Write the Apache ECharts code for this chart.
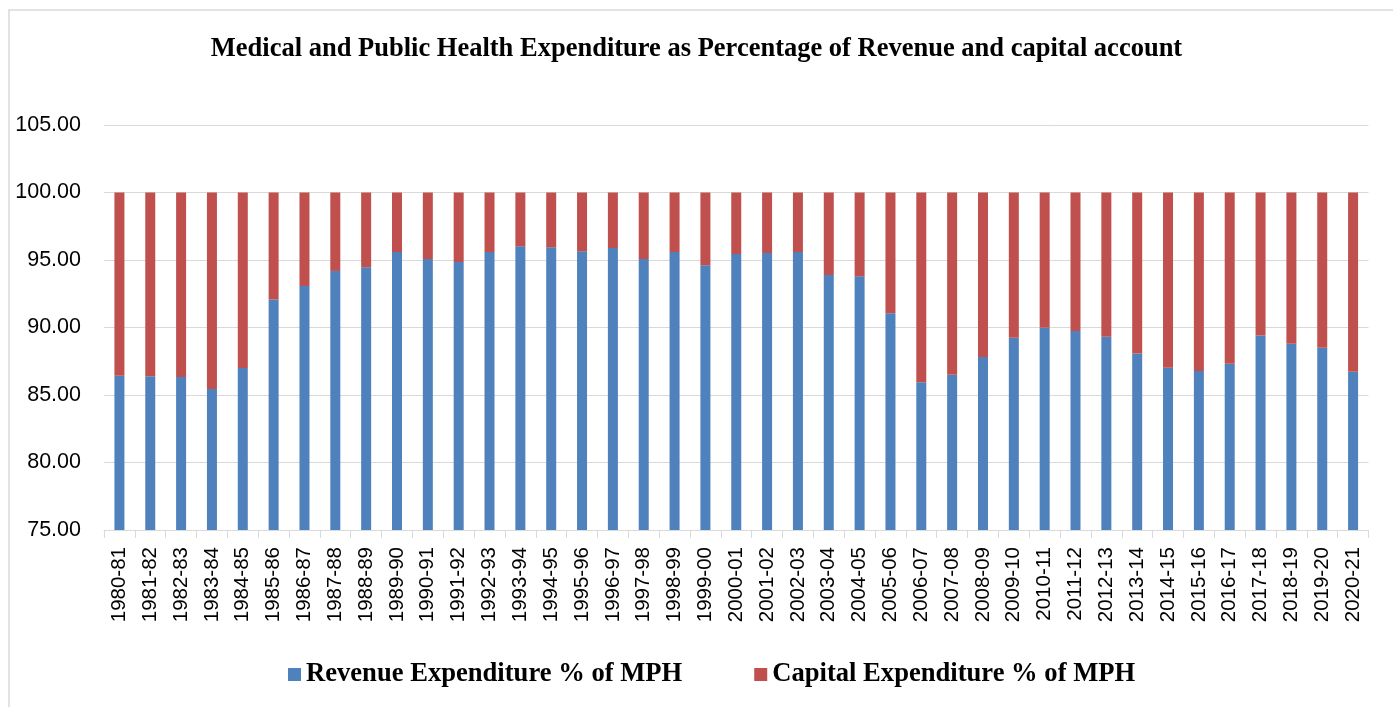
<!DOCTYPE html>
<html>
<head>
<meta charset="utf-8">
<script src="https://cdn.jsdelivr.net/npm/echarts@6/dist/echarts.min.js"></script>
<style>html,body{margin:0;padding:0;background:#fff;}#c{width:1393px;height:707px;}</style>
</head>
<body>
<div id="c"></div>
<script>
const categories = ["1980-81","1981-82","1982-83","1983-84","1984-85","1985-86","1986-87","1987-88","1988-89","1989-90","1990-91","1991-92","1992-93","1993-94","1994-95","1995-96","1996-97","1997-98","1998-99","1999-00","2000-01","2001-02","2002-03","2003-04","2004-05","2005-06","2006-07","2007-08","2008-09","2009-10","2010-11","2011-12","2012-13","2013-14","2014-15","2015-16","2016-17","2017-18","2018-19","2019-20","2020-21"];
const revenue = [86.43,86.38,86.33,85.44,87.00,92.07,93.08,94.19,94.46,95.59,95.07,94.85,95.59,96.01,95.94,95.64,95.89,95.07,95.59,94.61,95.44,95.52,95.59,93.89,93.79,91.06,85.94,86.50,87.81,89.24,89.98,89.75,89.31,88.08,87.02,86.77,87.32,89.41,88.79,88.50,86.72];
const capital = [13.57,13.62,13.67,14.56,13.00,7.93,6.92,5.81,5.54,4.41,4.93,5.15,4.41,3.99,4.06,4.36,4.11,4.93,4.41,5.39,4.56,4.48,4.41,6.11,6.21,8.94,14.06,13.50,12.19,10.76,10.02,10.25,10.69,11.92,12.98,13.23,12.68,10.59,11.21,11.50,13.28];
const yTicks = {min: 75, max: 105, interval: 5};

const chart = echarts.init(document.getElementById('c'));
chart.setOption({
  animation: false,
  backgroundColor: '#fff',
  graphic: [{type: 'rect', shape: {x: 9, y: 10, width: 1400, height: 720}, style: {fill: 'none', stroke: '#d9d9d9', lineWidth: 1.5}}],
  title: {
    text: 'Medical and Public Health Expenditure as Percentage of Revenue and capital account',
    left: 'center', top: 31,
    textStyle: {fontFamily: 'Liberation Serif', fontWeight: 'bold', fontSize: 26.5, color: '#000'}
  },
  legend: {
    bottom: 14, left: 283, itemGap: 72, itemWidth: 13, itemHeight: 13,
    icon: 'rect',
    textStyle: {fontFamily: 'Liberation Serif', fontWeight: 'bold', fontSize: 26.6, color: '#000'},
    data: ['Revenue Expenditure % of MPH', 'Capital Expenditure % of MPH']
  },
  grid: {left: 104, right: 24.5, top: 125, bottom: 177},
  xAxis: {
    type: 'category', data: categories,
    axisLine: {lineStyle: {color: '#d9d9d9', width: 1}},
    axisTick: {show: true, alignWithLabel: false, length: 8, lineStyle: {color: '#d9d9d9'}},
    axisLabel: {rotate: 90, interval: 0, fontFamily: 'Liberation Sans', fontSize: 20.5, color: '#000', margin: 17}
  },
  yAxis: {
    type: 'value', min: yTicks.min, max: yTicks.max, interval: yTicks.interval,
    axisLine: {show: false}, axisTick: {show: false},
    splitLine: {lineStyle: {color: '#d9d9d9', width: 1}},
    axisLabel: {formatter: v => v.toFixed(2), fontFamily: 'Liberation Sans', fontSize: 21.5, color: '#000', margin: 23}
  },
  series: [
    {name: 'Revenue Expenditure % of MPH', type: 'bar', stack: 's', data: revenue, barWidth: 10,
     itemStyle: {color: '#4F81BD'}},
    {name: 'Capital Expenditure % of MPH', type: 'bar', stack: 's', data: capital, barWidth: 10,
     itemStyle: {color: '#C0504D'}}
  ]
});
</script>
</body>
</html>
